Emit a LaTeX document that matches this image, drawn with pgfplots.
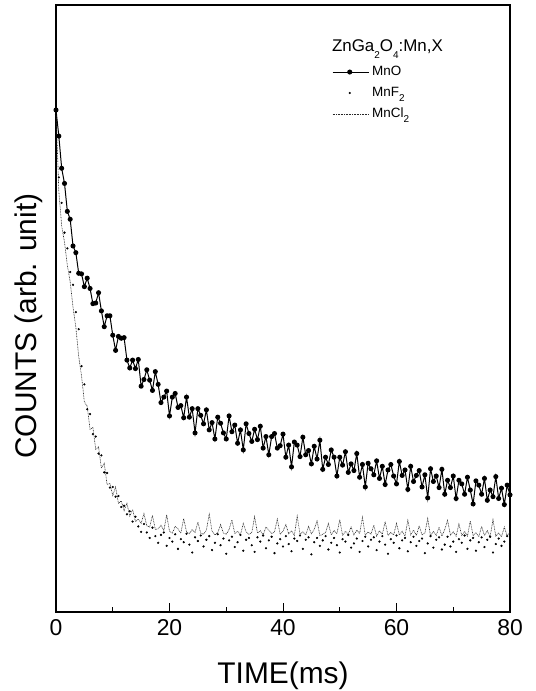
\documentclass[border=0pt]{standalone}
\usepackage{fontspec}
\setmainfont{Liberation Sans}
\usepackage{pgfplots}
\usepackage{pgfplotstable}
\pgfplotsset{compat=1.18}
\newcommand{\sub}[1]{\raisebox{-0.42em}{\fontsize{10}{10}\selectfont #1}}
\pgfplotsset{
  marklegend/.style={legend image code/.code={\draw[mark repeat=2,mark phase=2,##1] plot coordinates {(0bp,0bp) (17bp,0bp) (36bp,0bp)};}},
  linelegend/.style={legend image code/.code={\draw[##1] (0bp,0bp) -- (36bp,0bp);}},
}
\pgfplotstableread{
t mno mnf mncl
0.0 82.7 82.0 82.7
0.5 78.4 71.6 69.3
1.0 73.1 67.4 63.6
1.5 70.6 62.5 60.9
2.0 66.0 59.9 57.1
2.5 64.7 56.0 54.4
3.0 60.3 53.9 50.2
3.5 59.2 49.4 46.9
4.0 55.8 46.6 42.1
4.5 55.7 40.5 38.9
5.0 53.6 37.5 34.6
5.5 55.0 33.4 33.9
6.0 53.3 32.6 30.1
6.5 50.8 29.3 30.4
7.0 50.9 28.9 26.8
7.5 52.6 26.1 27.2
8.0 49.6 25.8 23.7
8.5 47.0 23.0 24.5
9.0 48.8 22.9 21.0
9.5 48.8 20.5 21.2
10.0 45.6 20.6 19.2
10.5 43.1 19.0 20.6
11.0 45.4 19.1 17.9
11.5 45.1 17.3 18.3
12.0 45.2 17.5 16.7
12.5 41.5 16.1 17.9
13.0 40.2 16.6 15.8
13.5 41.5 14.9 16.9
14.0 40.1 15.7 14.9
14.5 41.6 14.1 15.3
15.0 37.2 13.2 14.6
15.5 38.3 14.5 16.2
16.0 39.9 13.1 14.2
16.5 38.2 12.2 14.0
17.0 36.5 13.9 15.9
17.5 39.6 12.5 13.6
18.0 37.5 11.4 13.7
18.5 34.5 12.7 14.3
19.0 35.4 13.1 13.4
19.5 36.4 10.9 16.0
20.0 32.3 12.2 13.3
20.5 35.4 11.6 13.0
21.0 36.0 12.8 14.1
21.5 33.7 10.4 13.7
22.0 34.0 12.0 13.0
22.5 32.0 11.5 15.4
23.0 35.4 12.9 13.2
23.5 32.1 11.1 12.9
24.0 33.5 9.8 13.6
24.5 29.5 12.3 13.1
25.0 33.5 11.7 14.8
25.5 32.4 12.6 13.0
26.0 31.0 10.8 12.8
26.5 33.3 11.9 13.5
27.0 30.0 12.5 16.1
27.5 31.2 10.2 13.3
28.0 28.5 11.4 12.7
28.5 32.1 12.8 13.1
29.0 31.1 11.0 14.4
29.5 29.5 12.1 13.0
30.0 28.5 9.6 12.8
30.5 32.3 11.8 13.6
31.0 29.7 12.4 15.2
31.5 30.8 10.7 12.9
32.0 27.8 11.5 13.3
32.5 30.0 12.7 12.7
33.0 26.7 10.1 14.6
33.5 31.0 11.9 13.2
34.0 29.4 12.2 12.8
34.5 28.1 11.0 13.1
35.0 30.1 9.9 15.7
35.5 28.4 12.3 13.0
36.0 30.6 11.6 13.4
36.5 27.0 12.6 12.7
37.0 28.9 10.5 14.0
37.5 25.9 11.8 13.5
38.0 28.9 12.4 12.9
38.5 29.4 9.7 13.2
39.0 27.0 11.3 15.3
39.5 27.4 12.0 12.8
40.0 29.3 10.8 13.3
40.5 25.5 12.5 14.4
41.0 27.5 11.2 12.9
41.5 23.9 10.0 13.4
42.0 28.0 12.1 12.6
42.5 27.5 11.7 15.8
43.0 25.6 12.6 12.8
43.5 28.8 10.4 13.2
44.0 25.9 11.9 12.7
44.5 26.6 12.3 14.1
45.0 24.4 9.5 12.9
45.5 27.3 11.5 13.6
46.0 25.2 12.2 15.0
46.5 28.3 10.9 12.6
47.0 23.5 11.8 12.8
47.5 25.5 12.5 13.1
48.0 24.3 10.3 14.6
48.5 26.7 11.4 12.7
49.0 25.5 12.2 13.4
49.5 22.4 11.0 12.9
50.0 25.5 9.8 15.2
50.5 24.2 12.0 12.6
51.0 26.4 11.6 13.3
51.5 23.0 12.7 12.8
52.0 24.4 10.6 14.0
52.5 23.3 11.3 12.7
53.0 26.1 12.1 13.5
53.5 22.2 9.9 12.9
54.0 24.3 11.7 15.6
54.5 20.6 12.4 12.6
55.0 24.5 10.8 13.2
55.5 23.6 11.9 12.8
56.0 22.6 12.3 14.3
56.5 24.9 10.2 12.5
57.0 22.0 11.6 13.4
57.5 24.0 12.5 12.8
58.0 21.0 11.1 14.9
58.5 23.4 9.6 12.6
59.0 24.3 12.0 13.1
59.5 22.4 11.4 12.7
60.0 21.1 12.6 14.6
60.5 24.8 10.5 12.7
61.0 22.5 11.8 13.3
61.5 23.4 12.2 12.5
62.0 20.2 10.0 15.1
62.5 24.0 11.5 12.7
63.0 21.5 12.4 13.5
63.5 22.5 10.9 12.6
64.0 23.3 11.7 14.2
64.5 20.6 12.1 12.7
65.0 22.6 9.7 13.0
65.5 18.8 11.3 15.4
66.0 23.6 12.5 12.5
66.5 21.5 10.6 13.3
67.0 22.4 11.9 12.6
67.5 20.5 12.3 14.0
68.0 23.5 10.3 12.5
68.5 19.4 11.1 13.6
69.0 21.7 12.4 15.1
69.5 20.5 10.8 12.7
70.0 22.4 11.6 13.2
70.5 18.7 9.9 12.5
71.0 21.7 12.0 14.5
71.5 21.1 11.4 12.6
72.0 19.4 12.6 13.3
72.5 22.2 10.4 12.5
73.0 20.1 11.8 15.0
73.5 17.8 12.2 12.6
74.0 21.6 10.1 13.1
74.5 20.9 11.5 12.4
75.0 19.4 12.3 14.1
75.5 22.0 10.7 12.6
76.0 18.4 11.9 13.4
76.5 20.1 12.4 12.4
77.0 19.0 9.8 15.2
77.5 22.3 11.2 12.5
78.0 18.7 12.1 13.0
78.5 20.4 10.9 12.4
79.0 17.7 11.6 14.0
79.5 20.9 12.5 12.5
80.0 19.3 11.2 13.2
}\datatable
\begin{document}
\begin{tikzpicture}
\begin{axis}[
  at={(56bp,79bp)}, anchor=south west,
  scale only axis, width=454bp, height=607bp,
  xmin=0, xmax=80, ymin=0, ymax=100,
  xtick={0,20,40,60,80}, minor xtick={10,30,50,70},
  ytick=\empty,
  xtick pos=left, tick align=inside,
  major tick length=9bp, minor tick length=4.5bp,
  every tick/.style={black, line width=1bp},
  axis line style={line width=1.3bp},
  /pgf/number format/assume math mode=true,
  xticklabel style={font=\fontsize{23}{26}\selectfont, yshift=-4bp},
  xlabel={TIME(ms)},
  xlabel style={font=\fontsize{30}{34}\selectfont, at={(axis description cs:0.5,-0.1186)}, anchor=base},
  ylabel={COUNTS (arb. unit)},
  ylabel style={font=\fontsize{30}{34}\selectfont, at={(axis description cs:-0.0419,0.471)}, anchor=base},
  legend style={draw=none, fill=none, at={(axis description cs:0.608,0.901)}, anchor=north west,
    font=\fontsize{13.5}{16}\selectfont, inner sep=0pt, row sep=7.5bp, column sep=3bp,
    nodes={inner sep=0pt, text height=10bp, text depth=3.5bp}},
  legend cell align=left,
]
\addplot[black, line width=1bp, mark=*, mark size=2bp, marklegend]
  table[x=t, y=mno]{\datatable};
\addlegendentry{MnO}
\addplot[black, only marks, mark=*, mark size=0.9bp, marklegend]
  table[x=t, y=mnf]{\datatable};
\addlegendentry{MnF\sub{2}}
\addplot[black!85, line width=0.6bp, dash pattern=on 0.8bp off 0.8bp, linelegend]
  table[x=t, y=mncl]{\datatable};
\addlegendentry{MnCl\sub{2}}
\node[anchor=base west, inner sep=0pt, font=\fontsize{17}{20}\selectfont] at (axis cs:48.6,92.3) {ZnGa\sub{2}O\sub{4}:Mn,X};
\end{axis}
\pgfresetboundingbox
\useasboundingbox (0,0) rectangle (536bp,691bp);
\end{tikzpicture}
\end{document}
